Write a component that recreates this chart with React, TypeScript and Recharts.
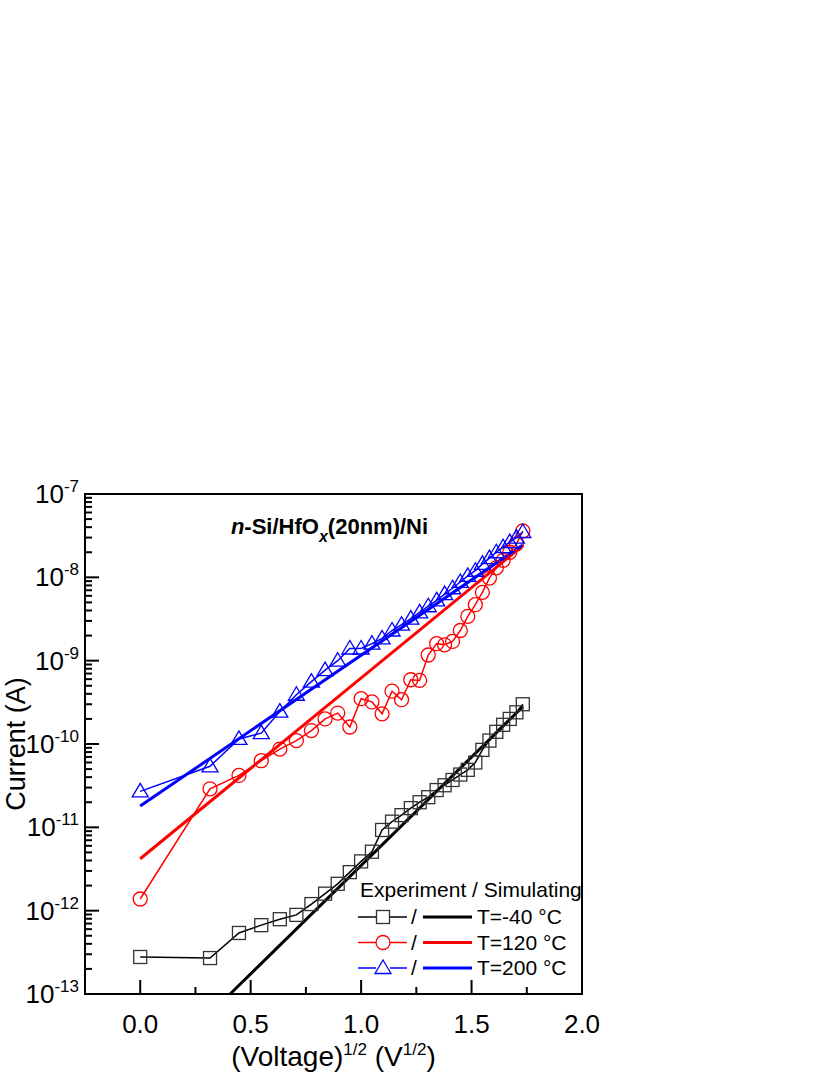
import React from 'react';
import { ComposedChart, Line, XAxis, YAxis, ReferenceArea, Legend } from 'recharts';

const FONT = '"Liberation Sans", Arial, Helvetica, sans-serif';

// sqrt(V) sampling points
const sqrtV = [0, 0.316, 0.447, 0.548, 0.632, 0.707, 0.775, 0.837, 0.894, 0.949, 1.0, 1.049, 1.095, 1.14, 1.183, 1.225, 1.265, 1.304, 1.342, 1.378, 1.414, 1.449, 1.483, 1.517, 1.549, 1.581, 1.612, 1.643, 1.673, 1.703, 1.732];

// experiment, current (A)
const expM40 = [2.78e-13, 2.7e-13, 5.4e-13, 6.7e-13, 7.9e-13, 8.9e-13, 1.2e-12, 1.6e-12, 2.1e-12, 2.9e-12, 3.9e-12, 5.1e-12, 9.3e-12, 1.17e-11, 1.4e-11, 1.7e-11, 2.0e-11, 2.3e-11, 2.8e-11, 3.2e-11, 3.7e-11, 4.3e-11, 4.9e-11, 6.0e-11, 8.5e-11, 1.1e-10, 1.4e-10, 1.7e-10, 2.0e-10, 2.4e-10, 3.0e-10];
const exp120 = [1.38e-12, 2.9e-11, 4.2e-11, 6.3e-11, 8.7e-11, 1.1e-10, 1.45e-10, 2.0e-10, 2.35e-10, 1.6e-10, 3.5e-10, 3.2e-10, 2.3e-10, 4.3e-10, 3.4e-10, 5.9e-10, 5.8e-10, 1.17e-9, 1.6e-9, 1.55e-9, 1.7e-9, 2.3e-9, 3.4e-9, 4.7e-9, 6.6e-9, 9.8e-9, 1.3e-8, 1.6e-8, 2.0e-8, 2.5e-8, 3.6e-8];
const exp200 = [2.7e-11, 5.4e-11, 1.15e-10, 1.35e-10, 2.45e-10, 3.9e-10, 5.6e-10, 7.7e-10, 1.0e-9, 1.4e-9, 1.4e-9, 1.6e-9, 1.85e-9, 2.3e-9, 2.7e-9, 3.2e-9, 3.8e-9, 4.5e-9, 5.3e-9, 6.3e-9, 7.4e-9, 8.8e-9, 1.04e-8, 1.2e-8, 1.45e-8, 1.7e-8, 2.0e-8, 2.3e-8, 2.65e-8, 3.0e-8, 3.5e-8];

// simulated fits (straight lines on log axis)
const simXM40 = [0.407, 1.732];
const simM40 = [1.0e-13, 2.8e-10];
const simX120 = [0, 1.732];
const sim120 = [4.2e-12, 2.4e-8];
const simX200 = [0, 1.732];
const sim200 = [1.8e-11, 2.45e-8];

const xTicks = [-0.25, 0, 0.25, 0.5, 0.75, 1.0, 1.25, 1.5, 1.75, 2.0];
const xMajorLabels = ['0.0', '0.5', '1.0', '1.5', '2.0'];
const yMajor = [1e-13, 1e-12, 1e-11, 1e-10, 1e-9, 1e-8, 1e-7];
const yExpLabels = ['-13', '-12', '-11', '-10', '-9', '-8', '-7'];
const yMinorMult = [2, 3, 4, 5, 6, 7, 8, 9];

const yTicks: number[] = [];
yMajor.forEach((m, i) => {
  yTicks.push(m);
  if (i < yMajor.length - 1) yMinorMult.forEach(k => yTicks.push(k * m));
});

const toPts = (xs: number[], ys: number[]) => xs.map((x, i) => ({ x, y: ys[i] }));
const dM40 = toPts(sqrtV, expM40);
const d120 = toPts(sqrtV, exp120);
const d200 = toPts(sqrtV, exp200);
const sM40 = toPts(simXM40, simM40);
const s120 = toPts(simX120, sim120);
const s200 = toPts(simX200, sim200);

const RED = '#ff0000';
const BLUE = '#0000ff';

const Square = (p: any) => (
  <rect key={`sq-${p.index}`} x={p.cx - 6.5} y={p.cy - 6.5} width={13} height={13} fill="none" stroke="#333" strokeWidth={1.3} />
);
const Circ = (p: any) => (
  <circle key={`ci-${p.index}`} cx={p.cx} cy={p.cy} r={7} fill="none" stroke={RED} strokeWidth={1.3} />
);
const Tri = (p: any) => (
  <polygon key={`tr-${p.index}`} points={`${p.cx},${p.cy - 8} ${p.cx - 8},${p.cy + 5.5} ${p.cx + 8},${p.cy + 5.5}`} fill="none" stroke={BLUE} strokeWidth={1.3} />
);

const YTick = (p: any) => {
  const v = p.payload.value;
  const i = yMajor.findIndex(m => Math.abs(m - v) / m < 1e-6);
  const major = i >= 0;
  return (
    <g>
      <line x1={p.x} x2={p.x + (major ? 14 : 7)} y1={p.y} y2={p.y} stroke="#000" strokeWidth={2} />
      {major && (
        <text x={p.x - 6} y={p.y + 9} textAnchor="end" fontFamily={FONT} fontSize={26} fill="#000">
          <tspan>10</tspan>
          <tspan dy={-11} fontSize={17}>{yExpLabels[i]}</tspan>
        </text>
      )}
    </g>
  );
};

const XTick = (p: any) => {
  const v = p.payload.value;
  if (v < 0) return <g />;
  const idx = Math.round(v / 0.5);
  const major = Math.abs(v - idx * 0.5) < 1e-6;
  return (
    <g>
      <line x1={p.x} x2={p.x} y1={p.y} y2={p.y - (major ? 14 : 7)} stroke="#000" strokeWidth={2} />
      {major && (
        <text x={p.x} y={p.y + 39} textAnchor="middle" fontFamily={FONT} fontSize={26} fill="#000">
          {xMajorLabels[idx]}
        </text>
      )}
    </g>
  );
};

const XLabel = (p: any) => {
  const vb = p.viewBox;
  return (
    <text x={vb.x + vb.width / 2} y={vb.y + 72} textAnchor="middle" fontFamily={FONT} fontSize={28} fill="#000">
      <tspan>(Voltage)</tspan>
      <tspan dy={-11} fontSize={17}>1/2</tspan>
      <tspan dy={11}> (V</tspan>
      <tspan dy={-11} fontSize={17}>1/2</tspan>
      <tspan dy={11}>)</tspan>
    </text>
  );
};

const YLabel = (p: any) => {
  const vb = p.viewBox;
  const cy = vb.y + vb.height / 2;
  return (
    <text x={25} y={cy} transform={`rotate(-90, 25, ${cy})`} textAnchor="middle" fontFamily={FONT} fontSize={27} fill="#000">
      Current (A)
    </text>
  );
};

const Title = (p: any) => {
  const vb = p.viewBox;
  return (
    <text x={vb.x + vb.width / 2 - 4} y={vb.y + 40} textAnchor="middle" fontFamily={FONT} fontSize={22} fontWeight="bold" fill="#000">
      <tspan fontStyle="italic">n</tspan>
      <tspan>-Si/HfO</tspan>
      <tspan dy={8} fontSize={16} fontStyle="italic">x</tspan>
      <tspan dy={-8}>(20nm)/Ni</tspan>
    </text>
  );
};

const legendRows = [
  { label: 'T=-40 °C', color: '#000', marker: 'square' },
  { label: 'T=120 °C', color: RED, marker: 'circle' },
  { label: 'T=200 °C', color: BLUE, marker: 'triangle' },
];

const LegendBox = () => (
  <svg width={240} height={105} style={{ display: 'block' }}>
    <text x={4} y={22} fontFamily={FONT} fontSize={21} fill="#000">Experiment / Simulating</text>
    {legendRows.map((r, i) => {
      const y = 42 + i * 25.5;
      return (
        <g key={r.label}>
          <line x1={2} x2={20} y1={y} y2={y} stroke={r.color} strokeWidth={1.5} />
          <line x1={34} x2={51} y1={y} y2={y} stroke={r.color} strokeWidth={1.5} />
          {r.marker === 'square' && Square({ cx: 27, cy: y, index: 'l' })}
          {r.marker === 'circle' && Circ({ cx: 27, cy: y, index: 'l' })}
          {r.marker === 'triangle' && Tri({ cx: 27, cy: y, index: 'l' })}
          <text x={55} y={y + 7} fontFamily={FONT} fontSize={21} fill="#000">/</text>
          <line x1={67} x2={116} y1={y} y2={y} stroke={r.color} strokeWidth={3} />
          <text x={121} y={y + 7} fontFamily={FONT} fontSize={21} fill="#000">{r.label}</text>
        </g>
      );
    })}
  </svg>
);

export default function App() {
  return (
    <div style={{ position: 'absolute', left: 0, top: 0, width: 830, height: 1075, background: '#fff' }}>
      <ComposedChart width={830} height={1075} margin={{ top: 494, right: 248, bottom: 0, left: 0 }}>
        <XAxis
          type="number"
          dataKey="x"
          domain={[-0.25, 2.0]}
          ticks={xTicks}
          interval={0}
          allowDataOverflow
          height={81}
          tickSize={0}
          tickMargin={0}
          axisLine={false}
          tickLine={false}
          tick={XTick}
          label={{ content: XLabel }}
        />
        <YAxis
          type="number"
          scale="log"
          dataKey="y"
          domain={[1e-13, 1e-7]}
          ticks={yTicks}
          interval={0}
          allowDataOverflow
          width={85}
          tickSize={0}
          tickMargin={0}
          axisLine={false}
          tickLine={false}
          tick={YTick}
          label={{ content: YLabel }}
        />
        <Line data={dM40} dataKey="y" stroke="#000" strokeWidth={1.5} dot={Square} activeDot={false} isAnimationActive={false} />
        <Line data={d120} dataKey="y" stroke={RED} strokeWidth={1.5} dot={Circ} activeDot={false} isAnimationActive={false} />
        <Line data={d200} dataKey="y" stroke={BLUE} strokeWidth={1.5} dot={Tri} activeDot={false} isAnimationActive={false} />
        <Line data={sM40} dataKey="y" stroke="#000" strokeWidth={3} dot={false} activeDot={false} isAnimationActive={false} />
        <Line data={s120} dataKey="y" stroke={RED} strokeWidth={3} dot={false} activeDot={false} isAnimationActive={false} />
        <Line data={s200} dataKey="y" stroke={BLUE} strokeWidth={3} dot={false} activeDot={false} isAnimationActive={false} />
        <ReferenceArea
          x1={-0.25}
          x2={2.0}
          y1={1e-13}
          y2={1e-7}
          fill="none"
          fillOpacity={0}
          stroke="#000"
          strokeWidth={2}
          label={{ content: Title }}
        />
        <Legend
          layout="horizontal"
          verticalAlign="middle"
          align="center"
          content={LegendBox}
          wrapperStyle={{ left: 356, top: 875, width: 240, height: 105 }}
        />
      </ComposedChart>
    </div>
  );
}
